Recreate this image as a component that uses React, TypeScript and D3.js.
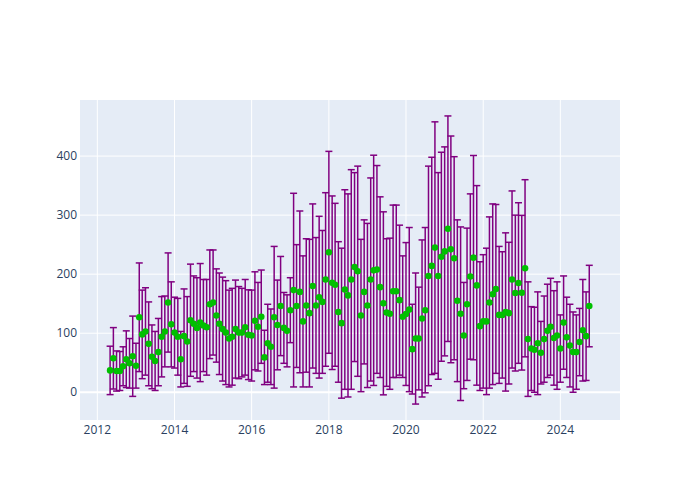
import React from "react";
import * as d3 from "d3";

const START_MONTH = "2012-05-01";
const N_MONTHS = 150;

const values: number[] = [
  37, 57.5, 36, 36, 44, 56, 49, 61, 45, 127,
  98, 103, 82, 60, 53, 68, 94, 103, 152, 115,
  101, 94, 56, 95, 86, 122, 116, 109, 118, 113,
  110, 149, 152, 130, 116, 107, 101, 91, 94, 107,
  101, 101, 110, 97.5, 96, 121, 111, 128, 59, 83,
  77, 127, 114, 146, 109, 104, 139, 173, 146, 170,
  120, 147, 134, 180, 147, 161, 153, 191, 237, 185.5,
  182, 136, 117, 174, 164, 191, 212, 205, 130, 170,
  147, 191, 206.5, 208, 178, 150.6, 135, 133, 171, 171,
  156, 128, 132.5, 140, 73, 91, 91, 125, 139, 197,
  214, 245, 197, 229.5, 238.6, 277, 242, 227, 155, 133,
  96, 149, 196, 228, 181, 112, 120, 120, 152, 166,
  175, 131, 131, 136, 134, 191, 168, 185, 168.6, 210,
  90, 74, 72, 83, 67, 90, 104, 111, 92, 96,
  74, 118, 93, 79, 68, 68, 85, 105, 95, 146,
];

const errors: number[] = [
  41, 52, 34, 33, 33, 48, 42, 68, 38, 92,
  75, 74, 71, 54, 50, 57, 68, 60, 84, 72,
  60, 65, 47, 80, 76, 95, 81, 85, 100, 78,
  81, 92, 89, 79, 86, 88, 88, 82, 82, 83,
  78, 75, 81, 76, 77, 83, 75, 79, 46, 66,
  64, 120, 76, 84, 60, 61, 55, 164, 104, 137,
  111, 113, 125, 139, 115, 137, 121, 147, 171, 147,
  138, 119, 127, 169, 172, 186, 160, 178, 129, 122,
  139, 172, 195, 176, 153, 155, 125, 128, 146, 146,
  127, 103, 121, 139, 76, 111, 87, 133, 140, 186,
  184, 213, 175, 177, 177, 191, 192, 172, 137, 147,
  90, 129, 140, 173, 169, 109, 113, 124, 145, 153,
  143, 116, 107, 134, 120, 150, 132, 136, 131, 150,
  97, 71, 72, 87, 53, 73, 79, 82, 80, 91,
  57, 79, 68, 70, 68, 63, 57, 86, 75, 69,
];

const xTickYears = [2012, 2014, 2016, 2018, 2020, 2022, 2024];
const yTicks = [0, 100, 200, 300, 400];

const W = 700;
const H = 500;
const M = { l: 80, r: 80, t: 100, b: 80 };

export default function App() {
  const start = new Date(START_MONTH + "T00:00:00Z");
  const dates = d3.utcMonth.range(start, d3.utcMonth.offset(start, N_MONTHS));
  const data = dates.map((d, i) => ({ d, v: values[i], e: errors[i] }));

  const x = d3
    .scaleUtc()
    .domain([new Date("2011-07-21T00:00:00Z"), new Date("2025-07-19T00:00:00Z")])
    .range([M.l, W - M.r]);
  const y = d3.scaleLinear().domain([-47, 495]).range([H - M.b, M.t]);

  const font = '"Open Sans", verdana, arial, sans-serif';
  const tickColor = "#2a3f5f";
  const cap = 3.5;

  return (
    <svg width={W} height={H} style={{ display: "block", position: "absolute", left: 0, top: 0 }}>
      <rect x={0} y={0} width={W} height={H} fill="#fff" />
      <rect x={M.l} y={M.t} width={W - M.l - M.r} height={H - M.t - M.b} fill="#E5ECF6" />
      {xTickYears.map((yr) => {
        const px = x(new Date(Date.UTC(yr, 0, 1)));
        return <line key={"gx" + yr} x1={px} x2={px} y1={M.t} y2={H - M.b} stroke="#fff" strokeWidth={1} />;
      })}
      {yTicks.map((t) => (
        <line key={"gy" + t} x1={M.l} x2={W - M.r} y1={y(t)} y2={y(t)} stroke="#fff" strokeWidth={t === 0 ? 2 : 1} />
      ))}
      <g>
        {data.map((p, i) => {
          const px = x(p.d);
          const y1 = y(p.v + p.e);
          const y0 = y(p.v - p.e);
          return (
            <g key={"eb" + i} stroke="purple" strokeWidth={1.5} fill="none">
              <line x1={px} x2={px} y1={y0} y2={y1} />
              <line x1={px - cap} x2={px + cap} y1={y1} y2={y1} />
              <line x1={px - cap} x2={px + cap} y1={y0} y2={y0} />
            </g>
          );
        })}
      </g>
      <g>
        {data.map((p, i) => (
          <circle key={"pt" + i} cx={x(p.d)} cy={y(p.v)} r={3.3} fill="#00c000" />
        ))}
      </g>
      {xTickYears.map((yr) => {
        const px = x(new Date(Date.UTC(yr, 0, 1)));
        return (
          <text key={"tx" + yr} x={px} y={434} textAnchor="middle" fontFamily={font} fontSize={12} fill={tickColor}>
            {yr}
          </text>
        );
      })}
      {yTicks.map((t) => (
        <text key={"ty" + t} x={M.l - 3} y={y(t) + 4} textAnchor="end" fontFamily={font} fontSize={12} fill={tickColor}>
          {t}
        </text>
      ))}
    </svg>
  );
}
